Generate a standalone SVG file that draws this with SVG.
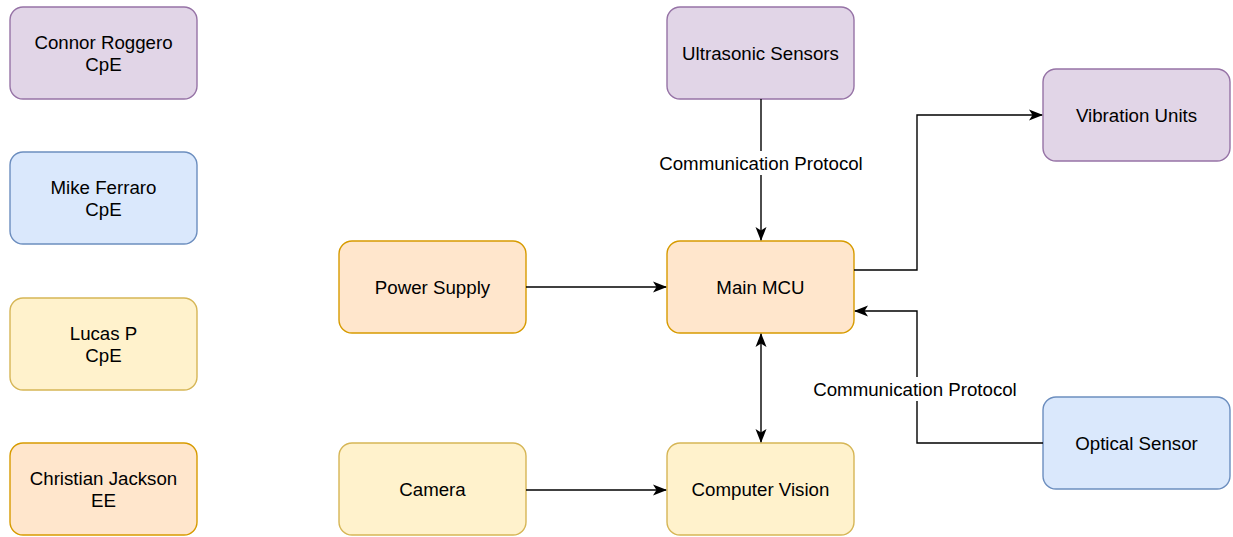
<svg xmlns="http://www.w3.org/2000/svg" width="1233" height="537" viewBox="0 0 1233 537">
  <style>
    .box { stroke-width: 1.4; }
    .purple { fill: #e1d5e7; stroke: #9673a6; }
    .blue { fill: #dae8fc; stroke: #6c8ebf; }
    .yellow { fill: #fff2cc; stroke: #d6b656; }
    .orange { fill: #ffe6cc; stroke: #d79b00; }
    text { font-family: "Liberation Sans", Arial, sans-serif; font-size: 18.7px; fill: #000; text-anchor: middle; }
    .edge { fill: none; stroke: #000; stroke-width: 1.4; }
    .lbl-bg { fill: #fff; }
  </style>
  <defs>
    <marker id="arrow" viewBox="0 0 14 14" refX="13" refY="7" markerWidth="14" markerHeight="14" markerUnits="userSpaceOnUse" orient="auto-start-reverse">
      <path d="M0,1.5 L14,7 L0,12.5 L3.5,7 Z" fill="#000"/>
    </marker>
  </defs>

  <!-- team members -->
  <g id="connor">
    <rect class="box purple" x="10" y="7" width="187" height="92" rx="13"/>
    <text x="103.5" y="49">Connor Roggero</text>
    <text x="103.5" y="71">CpE</text>
  </g>
  <g id="mike">
    <rect class="box blue" x="10" y="152" width="187" height="92" rx="13"/>
    <text x="103.5" y="194">Mike Ferraro</text>
    <text x="103.5" y="216">CpE</text>
  </g>
  <g id="lucas">
    <rect class="box yellow" x="10" y="298" width="187" height="92" rx="13"/>
    <text x="103.5" y="340">Lucas P</text>
    <text x="103.5" y="362">CpE</text>
  </g>
  <g id="christian">
    <rect class="box orange" x="10" y="443" width="187" height="92" rx="13"/>
    <text x="103.5" y="485">Christian Jackson</text>
    <text x="103.5" y="507">EE</text>
  </g>

  <!-- system blocks -->
  <g id="ultrasonic">
    <rect class="box purple" x="667" y="7" width="187" height="92" rx="13"/>
    <text x="760.5" y="59.5">Ultrasonic Sensors</text>
  </g>
  <g id="vibration">
    <rect class="box purple" x="1043" y="69" width="187" height="92" rx="13"/>
    <text x="1136.5" y="121.5">Vibration Units</text>
  </g>
  <g id="power">
    <rect class="box orange" x="339" y="241" width="187" height="92" rx="13"/>
    <text x="432.5" y="293.5">Power Supply</text>
  </g>
  <g id="mcu">
    <rect class="box orange" x="667" y="241" width="187" height="92" rx="13"/>
    <text x="760.5" y="293.5">Main MCU</text>
  </g>
  <g id="optical">
    <rect class="box blue" x="1043" y="397" width="187" height="92" rx="13"/>
    <text x="1136.5" y="449.5">Optical Sensor</text>
  </g>
  <g id="camera">
    <rect class="box yellow" x="339" y="443" width="187" height="92" rx="13"/>
    <text x="432.5" y="495.5">Camera</text>
  </g>
  <g id="vision">
    <rect class="box yellow" x="667" y="443" width="187" height="92" rx="13"/>
    <text x="760.5" y="495.5">Computer Vision</text>
  </g>

  <!-- connectors -->
  <g id="connectors">
    <path class="edge" d="M761,99 L761,240" marker-end="url(#arrow)"/>
    <rect class="lbl-bg" x="656" y="151" width="210" height="24"/>
    <text x="761" y="169.5">Communication Protocol</text>

    <path class="edge" d="M526,287 L666,287" marker-end="url(#arrow)"/>

    <path class="edge" d="M854,270 L917,270 L917,115 L1042,115" marker-end="url(#arrow)"/>

    <path class="edge" d="M1043,443 L917,443 L917,311 L855,311" marker-end="url(#arrow)"/>
    <rect class="lbl-bg" x="810" y="377" width="210" height="24"/>
    <text x="915" y="395.5">Communication Protocol</text>

    <path class="edge" d="M761,334 L761,442" marker-start="url(#arrow)" marker-end="url(#arrow)"/>

    <path class="edge" d="M526,490 L666,490" marker-end="url(#arrow)"/>
  </g>
</svg>
